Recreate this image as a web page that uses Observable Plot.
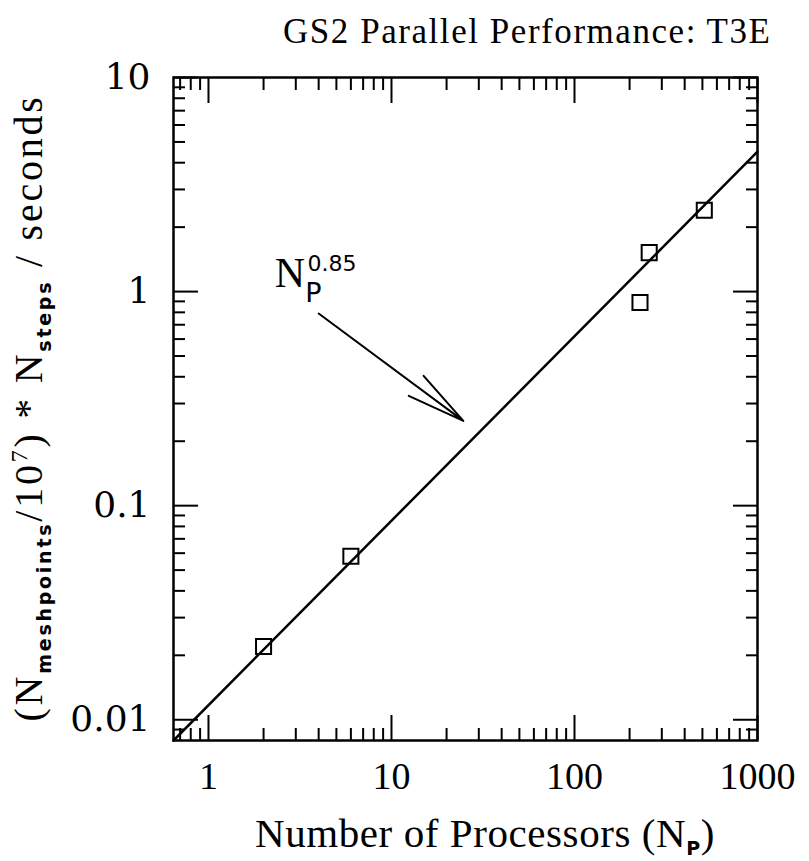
<!DOCTYPE html>
<html>
<head>
<meta charset="utf-8">
<script src="https://cdn.jsdelivr.net/npm/d3@7"></script>
<script src="https://cdn.jsdelivr.net/npm/@observablehq/plot@0.6"></script>
<style>
  html, body { margin: 0; padding: 0; background: #fff; overflow: hidden; }
  #title { position: relative; width: 809px; height: 50px; }
  #titleText { position: absolute; top: 14px; left: 283px; font-family: "Liberation Serif"; font-size: 35px; line-height: 35px; white-space: nowrap; color: #000; }
  #chart svg { display: block; }
</style>
</head>
<body>
<div id="title"><span id="titleText"></span></div>
<div id="chart"></div>
<script>
// ---- data ----
const titleText = "GS2 Parallel Performance: T3E";
const processors = [2, 6, 228, 256, 512];
const normTime = [0.022, 0.058, 0.89, 1.52, 2.4];
const fitNp = [0.644, 1000];
const fitTime = [0.008, 4.5];
const arrowStartNp = [4.0];
const arrowStartTime = [0.79];
const arrowEndNp = [24.7];
const arrowEndTime = [0.249];
const annoNp = [2.32];
const annoTime = [1.044];
const annoParts = [["N", "main"], ["P", "sub"], ["0.85", "sup"]];
const xDomain = [0.644, 1000];
const yDomain = [0.008, 10];
const xMajor = [1, 10, 100, 1000];
const xMinor = [0.7, 0.8, 0.9, 2, 3, 4, 5, 6, 7, 8, 9, 20, 30, 40, 50, 60, 70, 80, 90, 200, 300, 400, 500, 600, 700, 800, 900];
const yMajor = [0.01, 0.1, 1, 10];
const yMinor = [0.009, 0.02, 0.03, 0.04, 0.05, 0.06, 0.07, 0.08, 0.09, 0.2, 0.3, 0.4, 0.5, 0.6, 0.7, 0.8, 0.9, 2, 3, 4, 5, 6, 7, 8, 9];
const xLabelParts = [["Number of Processors (N", "main"], ["P", "sub"], [")", "main"]];
const yLabelParts = [["(N", "main"], ["meshpoints", "sub"], ["/10", "main"], ["7", "sup"], [") * N", "main"], ["steps", "sub"], [" / seconds", "main"]];

// ---- title ----
const tt = document.getElementById("titleText");
tt.textContent = titleText;
{
  const w0 = tt.getBoundingClientRect().width;
  const target = 487;
  tt.style.letterSpacing = ((target - w0) / (titleText.length - 1)) + "px";
}

// ---- plot ----
const points = processors.map((np, i) => ({np, t: normTime[i]}));
const fit = fitNp.map((np, i) => ({np, t: fitTime[i]}));
const tickStyle = {stroke: "#000", strokeWidth: 2, tickFormat: () => "", label: null};

const plot = Plot.plot({
  width: 809,
  height: 811,
  marginTop: 27,
  marginRight: 52,
  marginBottom: 121,
  marginLeft: 173,
  x: {type: "log", domain: xDomain, axis: null},
  y: {type: "log", domain: yDomain, axis: null},
  style: {background: "#fff", color: "#000", fontFamily: "Liberation Serif"},
  marks: [
    Plot.axisX(xMajor, {anchor: "bottom", tickSize: -25, ...tickStyle}),
    Plot.axisX(xMajor, {anchor: "top", tickSize: -25, ...tickStyle}),
    Plot.axisX(xMinor, {anchor: "bottom", tickSize: -12, ...tickStyle}),
    Plot.axisX(xMinor, {anchor: "top", tickSize: -12, ...tickStyle}),
    Plot.axisY(yMajor, {anchor: "left", tickSize: -25, ...tickStyle}),
    Plot.axisY(yMajor, {anchor: "right", tickSize: -25, ...tickStyle}),
    Plot.axisY(yMinor, {anchor: "left", tickSize: -12, ...tickStyle}),
    Plot.axisY(yMinor, {anchor: "right", tickSize: -12, ...tickStyle}),
    Plot.axisX(xMajor, {anchor: "bottom", tickSize: 0, tickPadding: 22, tickFormat: d => String(d), fontSize: 38, fontFamily: "Liberation Serif", fill: "#000", label: null}),
    Plot.axisY(yMajor, {anchor: "left", tickSize: 0, tickPadding: 23, tickFormat: d => String(d), fontSize: 36, fontFamily: "DejaVu Serif", fill: "#000", label: null}),
    Plot.line(fit, {x: "np", y: "t", stroke: "#000", strokeWidth: 2.5}),
    Plot.dot(points, {x: "np", y: "t", symbol: "square", r: 8.5, stroke: "#000", strokeWidth: 2, fill: "none"}),
    Plot.arrow(arrowStartNp, {
      x1: d => d, y1: (d, i) => arrowStartTime[i],
      x2: (d, i) => arrowEndNp[i], y2: (d, i) => arrowEndTime[i],
      stroke: "#000", strokeWidth: 2, headAngle: 24, headLength: 48
    }),
    Plot.frame({stroke: "#000", strokeWidth: 2.5})
  ]
});
document.getElementById("chart").append(plot);

// ---- rich texts (axis labels, annotation) ----
const svg = d3.select(plot);
function richText(parts, styles) {
  const t = svg.append("text").attr("fill", "#000");
  let shift = 0;
  for (const [str, kind] of parts) {
    const s = styles[kind];
    const dy = s.shift - shift;
    shift = s.shift;
    const sp = t.append("tspan")
      .attr("dy", dy)
      .style("font-family", s.family)
      .style("font-size", s.size + "px")
      .style("font-weight", s.weight)
      .text(str);
    if (s.dx) sp.attr("dx", s.dx);
  }
  return t;
}
function fitWidth(t, target) {
  const n = t.text().length;
  const w = t.node().getComputedTextLength();
  t.style("letter-spacing", ((target - w) / n) + "px");
}

const xl = richText(xLabelParts, {
  main: {family: "Liberation Serif", size: 41, weight: "normal", shift: 0},
  sub: {family: "DejaVu Sans", size: 19, weight: "bold", shift: 8}
}).attr("text-anchor", "middle").attr("transform", "translate(485,797)");
fitWidth(xl, 460);

const yl = richText(yLabelParts, {
  main: {family: "Liberation Serif", size: 40, weight: "normal", shift: 0},
  sub: {family: "DejaVu Sans", size: 19, weight: "bold", shift: 9},
  sup: {family: "Liberation Serif", size: 24, weight: "normal", shift: -15}
}).attr("text-anchor", "middle").attr("transform", "translate(42,358) rotate(-90)");
fitWidth(yl, 627);

// annotation N_P^0.85 placed through the plot's own scales
const sx = plot.scale("x"), sy = plot.scale("y");
richText(annoParts, {
  main: {family: "Liberation Serif", size: 42, weight: "normal", shift: 0},
  sub: {family: "DejaVu Sans", size: 27, weight: "normal", shift: 15},
  sup: {family: "DejaVu Sans", size: 22, weight: "normal", shift: -16, dx: -14}
}).attr("text-anchor", "start")
  .attr("transform", `translate(${sx.apply(annoNp[0])},${sy.apply(annoTime[0])})`);
</script>
</body>
</html>
